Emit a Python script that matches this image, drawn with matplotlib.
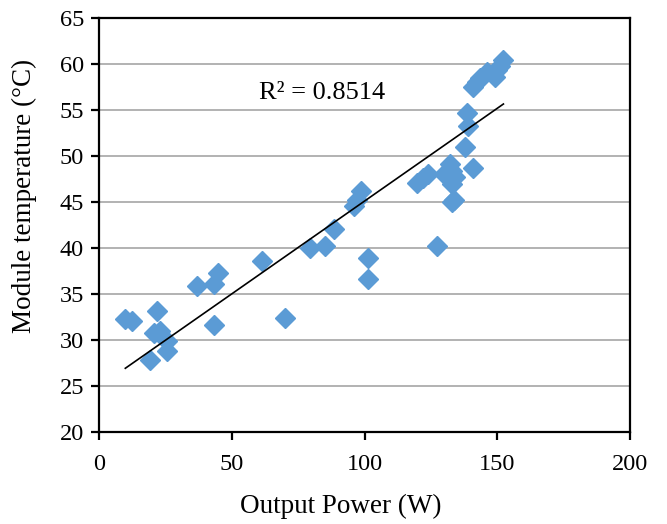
import matplotlib
matplotlib.use("Agg")
import matplotlib.pyplot as plt

# Output power (W) vs module temperature (°C)
power = [9.8, 12.3, 21.7, 20.5, 23.0, 25.5, 25.5, 19.2, 36.8, 43.1, 44.9, 43.1,
         61.3, 69.8, 79.5, 85.1, 88.6, 95.8, 97.2, 98.5, 101.2, 101.2, 119.6,
         122.0, 124.0, 127.3, 130.0, 132.2, 132.8, 132.8, 133.1, 133.6, 134.0,
         137.8, 138.5, 139.1, 140.7, 141.0, 142.5, 143.5, 146.0, 149.2, 149.8,
         151.0, 152.3]
temperature = [32.3, 32.1, 33.1, 30.8, 31.0, 29.9, 28.8, 27.8, 35.9, 36.1, 37.3,
               31.6, 38.6, 32.4, 40.0, 40.2, 42.1, 44.6, 45.2, 46.2, 38.9, 36.6,
               47.1, 47.6, 48.0, 40.2, 48.0, 49.1, 48.4, 47.0, 45.0, 45.2, 47.7,
               51.0, 54.7, 53.3, 48.7, 57.5, 58.0, 58.5, 59.1, 58.6, 59.3,
               59.8, 60.4]

# linear trendline as shown in the reference
trend_slope = 0.2016
trend_intercept = 24.95
r_squared = "0.8514"

plt.rcParams["font.family"] = ["Liberation Serif", "DejaVu Serif"]

fig = plt.figure(figsize=(6.67, 5.24), dpi=100)
ax = fig.add_axes([0.1489, 0.1756, 0.7956, 0.79])

ax.plot(power, temperature, linestyle="none", marker="D", markersize=10.5,
        color="#5B9BD5", zorder=3)

xs = [min(power), max(power)]
ax.plot(xs, [trend_slope * x + trend_intercept for x in xs],
        color="black", linewidth=1.2, zorder=4)

ax.text(84, 56.9, f"R\u00b2 = {r_squared}", fontsize=19, ha="center", va="center")

ax.set_xlim(0, 200)
ax.set_ylim(20, 65)
ax.set_xticks(range(0, 201, 50))
ax.set_yticks(range(20, 66, 5))
ax.yaxis.grid(True, color="#A6A6A6", linewidth=1.2)
ax.set_axisbelow(True)
for side in ax.spines.values():
    side.set_linewidth(1.6)
    side.set_color("black")
ax.tick_params(direction="out", length=6, width=1.6, labelsize=17.5)
ax.tick_params(axis="x", pad=10)
ax.tick_params(axis="y", pad=5)

ax.set_xlabel("Output Power (W)", fontsize=19.5)
ax.set_ylabel("Module temperature (\u00b0C)", fontsize=19.5)
ax.xaxis.set_label_coords(0.455, -0.15)
ax.yaxis.set_label_coords(-0.118, 0.57)

fig.savefig("out.png", dpi=100)
